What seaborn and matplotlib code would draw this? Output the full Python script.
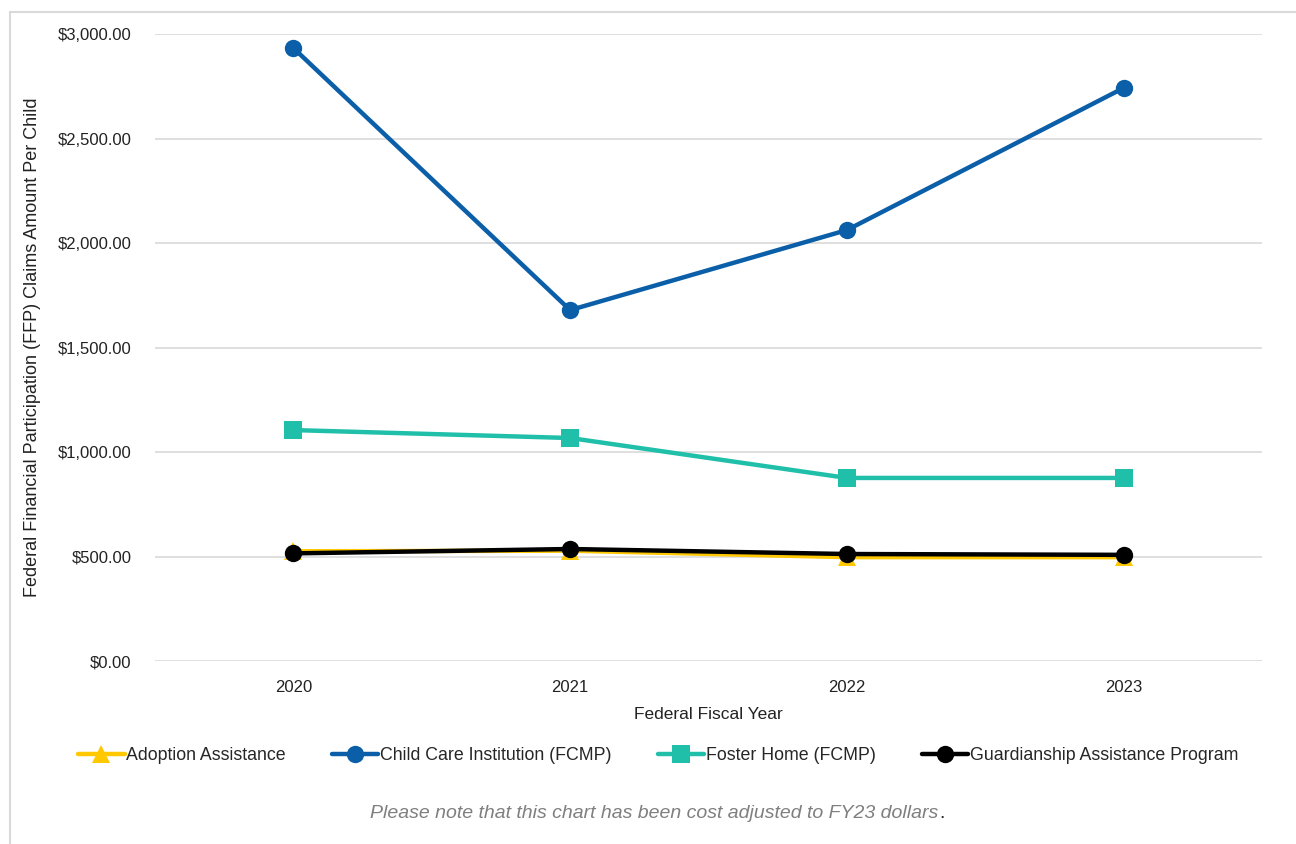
import pandas as pd
import matplotlib.pyplot as plt
import seaborn as sns
from matplotlib.patches import Rectangle
from matplotlib.ticker import FuncFormatter

# values
years = ["2020", "2021", "2022", "2023"]
adoption = [525, 528, 497, 497]
child_care = [2933, 1679, 2062, 2742]
foster_home = [1105, 1067, 876, 876]
guardianship = [515, 536, 512, 508]

programs = [
    "Adoption Assistance",
    "Child Care Institution (FCMP)",
    "Foster Home (FCMP)",
    "Guardianship Assistance Program",
]
colors = ["#FFC800", "#0B5EA8", "#20BFAA", "#000000"]
markers = ["^", "o", "s", "o"]

df = pd.DataFrame({
    "year": years * 4,
    "amount": adoption + child_care + foster_home + guardianship,
    "program": [p for p in programs for _ in years],
})

sns.set_theme(style="white")
plt.rcParams["font.family"] = ["Liberation Sans", "DejaVu Sans"]

fig = plt.figure(figsize=(12.96, 8.44), dpi=100)
ax = fig.add_axes([0.1196, 0.2168, 0.8542, 0.7429])

sns.lineplot(
    data=df, x="year", y="amount", hue="program", style="program",
    hue_order=programs, style_order=programs,
    palette=dict(zip(programs, colors)),
    markers=dict(zip(programs, markers)), dashes=False,
    linewidth=3.2, markersize=12.5, markeredgewidth=0, ax=ax,
)

ax.set_xlim(-0.5, 3.5)
ax.set_ylim(0, 3000)
ax.set_yticks(range(0, 3001, 500))
ax.yaxis.set_major_formatter(FuncFormatter(lambda v, _: f"${v:,.2f}"))
ax.grid(axis="y", color="#d9d9d9", linewidth=1.2)
ax.set_axisbelow(True)
for s in ax.spines.values():
    s.set_visible(False)
ax.tick_params(axis="both", length=0, labelsize=12, colors="#222222")
ax.tick_params(axis="y", pad=17)
ax.tick_params(axis="x", pad=14)

ax.set_xlabel("Federal Fiscal Year", fontsize=12.5, color="#222222", labelpad=8)
ax.set_ylabel("Federal Financial Participation (FFP) Claims Amount Per Child",
              fontsize=13, color="#222222", labelpad=12)

handles, labels = ax.get_legend_handles_labels()
ax.legend_.remove()
fig.legend(handles, labels, loc="center", bbox_to_anchor=(0.508, 0.105), ncol=4,
           frameon=False, fontsize=12.8, handlelength=2.6, handletextpad=0.1,
           columnspacing=2.6)

note = fig.text(0.505, 0.036, "Please note that this chart has been cost adjusted to FY23 dollars",
                ha="center", va="center", fontsize=14, style="italic", color="#7f7f7f")
fig.canvas.draw()
bb = note.get_window_extent()
fig.text((bb.x1 + 1) / fig.bbox.width, 0.036, ".", ha="left", va="center",
         fontsize=14, color="#222222")

# outer chart frame
fig.patches.append(Rectangle((0.0075, -0.05), 1.1, 1.036, transform=fig.transFigure,
                             fill=False, edgecolor="#d9d9d9", linewidth=1.5))

fig.savefig("out.png", dpi=100)
